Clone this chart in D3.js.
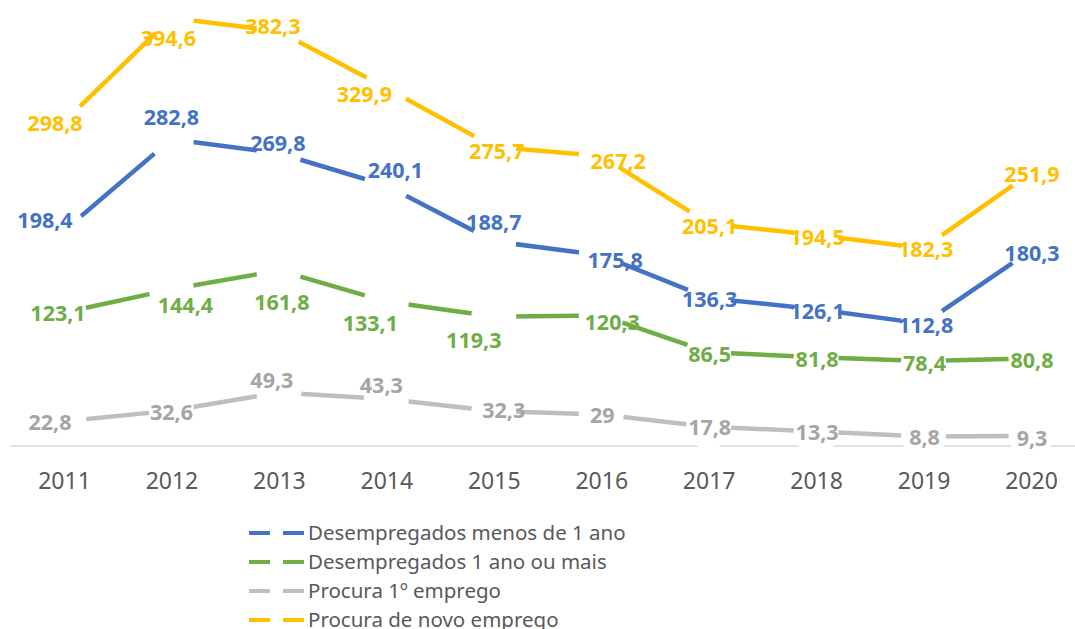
<!DOCTYPE html>
<html>
<head>
<meta charset="utf-8">
<script src="https://cdn.jsdelivr.net/npm/d3@7"></script>
<style>
  html, body { margin: 0; padding: 0; background: #fff; }
  svg { display: block; }
</style>
</head>
<body>
<svg id="chart"></svg>
<script>
// Data
const years = ['2011', '2012', '2013', '2014', '2015', '2016', '2017', '2018', '2019', '2020'];
const seriesNames = ['Desempregados menos de 1 ano', 'Desempregados 1 ano ou mais', 'Procura 1º emprego', 'Procura de novo emprego'];
const menosUmAno = [198.4, 282.8, 269.8, 240.1, 188.7, 175.8, 136.3, 126.1, 112.8, 180.3];
const umAnoOuMais = [123.1, 144.4, 161.8, 133.1, 119.3, 120.3, 86.5, 81.8, 78.4, 80.8];
const primeiroEmprego = [22.8, 32.6, 49.3, 43.3, 32.3, 29, 17.8, 13.3, 8.8, 9.3];
const novoEmprego = [298.8, 394.6, 382.3, 329.9, 275.7, 267.2, 205.1, 194.5, 182.3, 251.9];

const width = 1075;
const height = 629;

const series = [
  { name: seriesNames[0], values: menosUmAno, color: '#4472C4', labelColor: '#4472C4' },
  { name: seriesNames[1], values: umAnoOuMais, color: '#70AD47', labelColor: '#70AD47' },
  { name: seriesNames[2], values: primeiroEmprego, color: '#BFBFBF', labelColor: '#A5A5A5' },
  { name: seriesNames[3], values: novoEmprego, color: '#FFC000', labelColor: '#FFC000' }
];

// manual nudges of the data labels (px), like the dragged labels of the original
const labelNudge = [
  [[-19, -10], [0, -22], [-1, -10], [9, -15], [0, -19], [14, 5], [1, 1], [1, 2], [2, 2], [1, 3]],
  [[-6, 1], [14, 16], [3, 32], [-16, 22], [-20, 24], [11, 7], [1, 2], [1, 2], [1, 2], [1, 2]],
  [[-14, 1], [0, 2], [-7, -12], [-5, -14], [10, -1], [1, 1], [1, 1], [1, 1], [1, 1], [1, 2]],
  [[-9, 1], [-3, 20], [-6, -5], [-22, 6], [3, 4], [17, 5], [1, 3], [1, 2], [2, 1], [1, 2]]
];

const fmt = v => String(v).replace('.', ',');

const svg = d3.select('#chart')
  .attr('width', width)
  .attr('height', height)
  .style('font-family', '"Noto Sans", "Open Sans", sans-serif');

// Scales
const x = d3.scalePoint().domain(years).range([64, 1031]);
const y = d3.scaleLinear().domain([0, 400]).range([446, 12]);

// Baseline across the whole category range
const half = x.step() / 2;
svg.append('line')
  .attr('x1', x(years[0]) - half)
  .attr('x2', x(years[years.length - 1]) + half)
  .attr('y1', y(0))
  .attr('y2', y(0))
  .attr('stroke', '#D9D9D9')
  .attr('stroke-width', 1.5);

// X axis labels
const xAxis = svg.append('g')
  .attr('transform', `translate(0,${y(0)})`)
  .call(d3.axisBottom(x).tickSize(0).tickPadding(27));
xAxis.select('.domain').remove();
xAxis.selectAll('text')
  .attr('fill', '#595959')
  .style('font-size', '23px')
  .style('font-family', '"Noto Sans", sans-serif');

// Lines, each point hidden under a white marker (as in the original)
const line = d3.line()
  .x((d, i) => x(years[i]))
  .y(d => y(d));

series.forEach(s => {
  const g = svg.append('g');
  g.append('path')
    .attr('fill', 'none')
    .attr('stroke', s.color)
    .attr('stroke-width', 4.5)
    .attr('stroke-linejoin', 'round')
    .attr('d', line(s.values));
  g.selectAll('circle')
    .data(s.values)
    .join('circle')
    .attr('cx', (d, i) => x(years[i]))
    .attr('cy', d => y(d))
    .attr('r', 22.5)
    .attr('fill', '#fff');
});

// Data labels
const labelLayer = svg.append('g');
series.forEach((s, si) => {
  labelLayer.append('g')
    .selectAll('text')
    .data(s.values)
    .join('text')
    .attr('x', (d, i) => x(years[i]) + labelNudge[si][i][0])
    .attr('y', (d, i) => y(d) + labelNudge[si][i][1])
    .attr('dy', '0.36em')
    .attr('text-anchor', 'middle')
    .attr('fill', s.labelColor)
    .style('font-size', '21.5px')
    .style('font-weight', 'bold')
    .text(d => fmt(d));
});

// Legend
const legend = svg.append('g');
series.forEach((s, i) => {
  const ly = 533 + i * 29;
  legend.append('line')
    .attr('x1', 249)
    .attr('x2', 304)
    .attr('y1', ly)
    .attr('y2', ly)
    .attr('stroke', s.color)
    .attr('stroke-width', 4)
    .attr('stroke-dasharray', '21 13');
  legend.append('text')
    .attr('x', 308)
    .attr('y', ly)
    .attr('dy', '0.36em')
    .attr('fill', '#595959')
    .style('font-size', '20.5px')
    .text(s.name);
});
</script>
</body>
</html>
